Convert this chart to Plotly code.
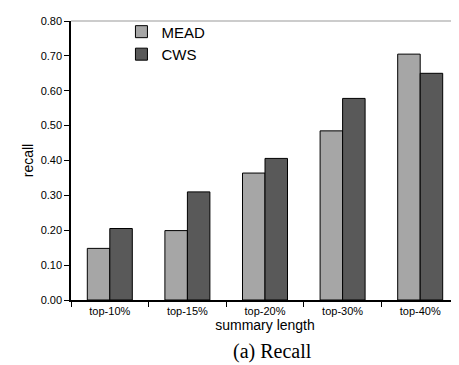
import plotly.graph_objects as go

categories = ["top-10%", "top-15%", "top-20%", "top-30%", "top-40%"]
mead = [0.148, 0.199, 0.364, 0.485, 0.705]
cws = [0.205, 0.310, 0.406, 0.578, 0.650]
y_ticks = [0.0, 0.1, 0.2, 0.3, 0.4, 0.5, 0.6, 0.7, 0.8]
y_ticklabels = ["%.2f" % v for v in y_ticks]

fig = go.Figure()
fig.add_trace(go.Bar(name="MEAD", x=categories, y=mead,
                     marker=dict(color="#a6a6a6", line=dict(color="#000000", width=1))))
fig.add_trace(go.Bar(name="CWS", x=categories, y=cws,
                     marker=dict(color="#595959", line=dict(color="#000000", width=1))))

fig.update_layout(
    width=459, height=365,
    margin=dict(l=63, r=8, t=7, b=73),
    paper_bgcolor="white", plot_bgcolor="white",
    barmode="group", bargap=0.42, bargroupgap=0,
    font=dict(family="Liberation Sans, Arial, sans-serif", color="#000000"),
    legend=dict(x=0.13, y=1.02, xanchor="left", yanchor="top",
                font=dict(size=15), bgcolor="rgba(0,0,0,0)",
                itemwidth=30, tracegroupgap=0),
    showlegend=True,
    xaxis=dict(
        type="category", tickson="boundaries", ticks="outside", ticklen=5,
        tickcolor="#000000", tickfont=dict(size=11),
        showline=True, linecolor="#000000", linewidth=1.5, mirror=False,
        title=dict(text="summary length", font=dict(size=14), standoff=2),
        showgrid=False,
    ),
    yaxis=dict(
        range=[0, 0.8], tickvals=y_ticks, ticktext=y_ticklabels,
        ticks="outside", ticklen=5, tickcolor="#000000", tickfont=dict(size=11),
        showline=True, linecolor="#000000", linewidth=1.5,
        showgrid=False, zeroline=False,
        title=dict(text="recall", font=dict(size=14), standoff=4),
    ),
    shapes=[
        dict(type="line", xref="paper", yref="paper", x0=0, x1=1, y0=1, y1=1,
             line=dict(color="#999999", width=1)),
        dict(type="line", xref="paper", yref="paper", x0=1, x1=1, y0=0, y1=1,
             line=dict(color="#999999", width=1)),
    ],
    annotations=[
        dict(text="(a) Recall", xref="paper", yref="paper", x=0.52, y=-0.186,
             xanchor="center", yanchor="middle", showarrow=False,
             font=dict(family="Liberation Serif, DejaVu Serif, serif", size=20)),
    ],
)

fig.write_html("out.html")
